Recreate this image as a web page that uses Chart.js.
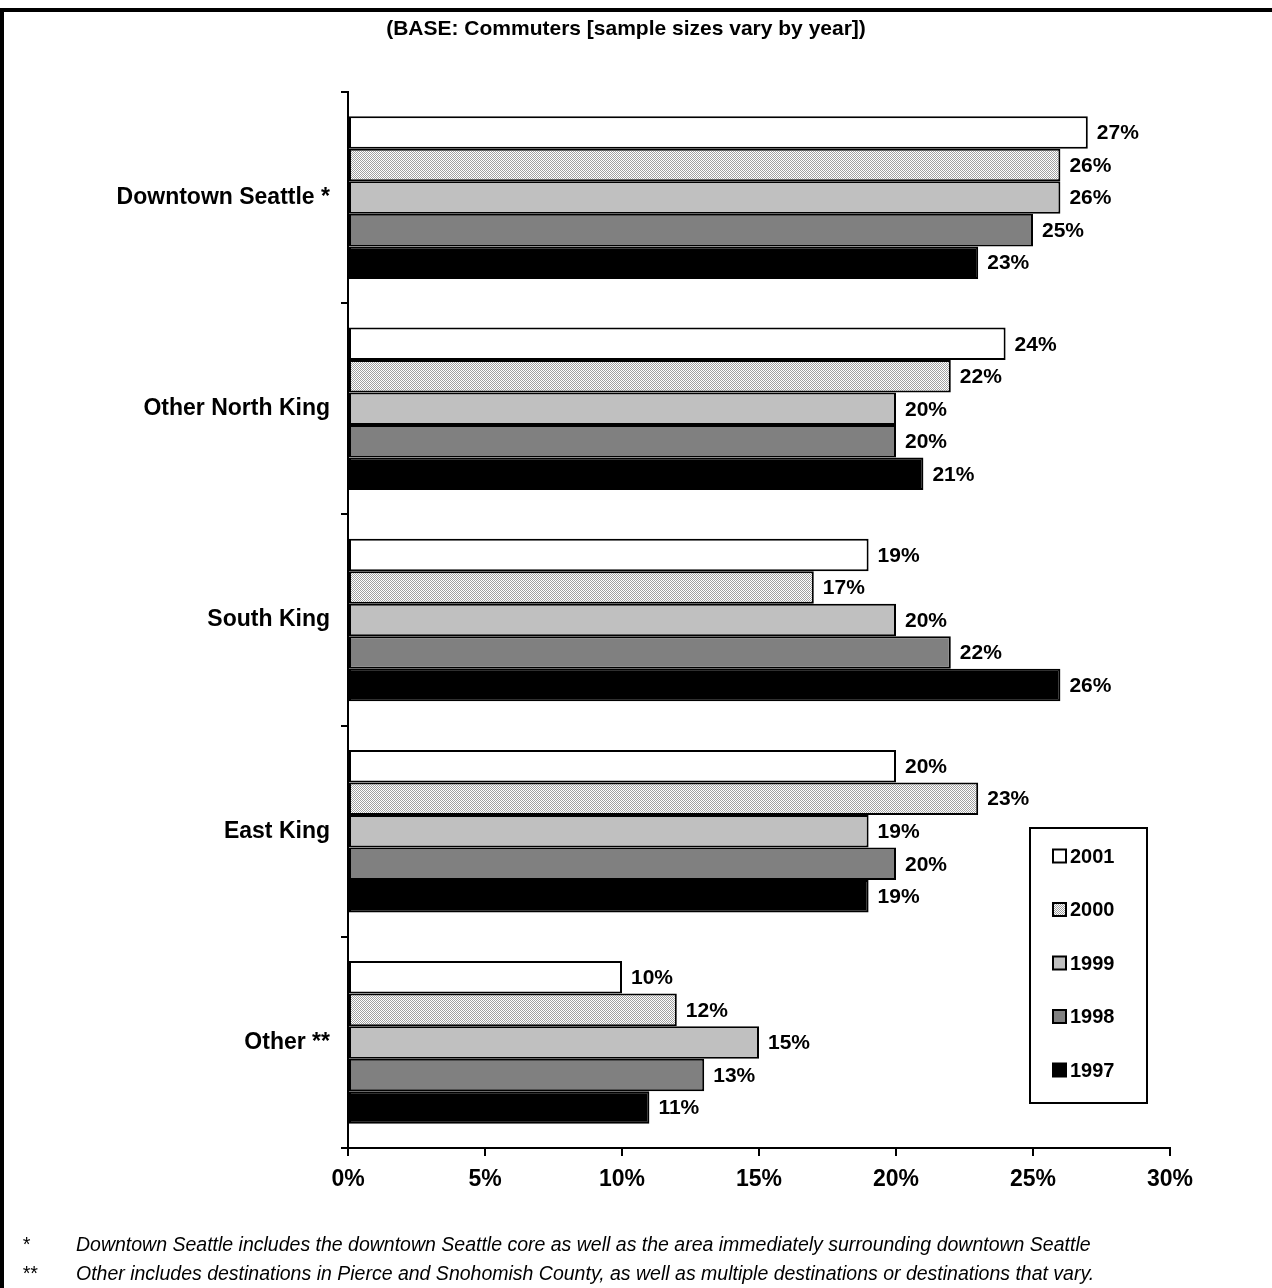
<!DOCTYPE html>
<html><head><meta charset="utf-8">
<script src="https://cdn.jsdelivr.net/npm/chart.js@4.4.1/dist/chart.umd.min.js"></script>
<style>
html,body{margin:0;padding:0;background:#fff;}
#wrap{position:relative;width:1272px;height:1288px;overflow:hidden;font-family:"Liberation Sans",Arial,sans-serif;color:#000;}
#frame{position:absolute;left:0;top:8px;width:1400px;height:1400px;border-left:4px solid #000;border-top:4px solid #000;box-sizing:border-box;}
canvas{position:absolute;left:0;top:0;}
#title{position:absolute;left:0;width:1252px;top:16px;text-align:center;font-weight:bold;font-size:21px;line-height:24px;}
.fn{position:absolute;font-style:italic;font-size:19.5px;line-height:22px;white-space:nowrap;}
</style></head>
<body><div id="wrap"><div id="frame"></div><canvas id="c" width="1272" height="1288"></canvas>
<div id="title">(BASE: Commuters [sample sizes vary by year])</div>
<div class="fn" style="left:22px;top:1233px;">*</div>
<div class="fn" style="left:76px;top:1233px;">Downtown Seattle includes the downtown Seattle core as well as the area immediately surrounding downtown Seattle</div>
<div class="fn" style="left:22px;top:1262px;">**</div>
<div class="fn" style="left:76px;top:1262px;">Other includes destinations in Pierce and Snohomish County, as well as multiple destinations or destinations that vary.</div>
</div>
<script>
const categories = ['Downtown Seattle *','Other North King','South King','East King','Other **'];
const years = ['2001','2000','1999','1998','1997'];
const v2001 = [27,24,19,20,10];
const v2000 = [26,22,17,23,12];
const v1999 = [26,20,20,19,15];
const v1998 = [25,20,22,20,13];
const v1997 = [23,21,26,19,11];
const xMin = 0, xMax = 30, xStep = 5;

const FONT = '"Liberation Sans", Arial, sans-serif';

function makePattern(){
  const p = document.createElement('canvas');
  p.width = 2; p.height = 2;
  const g = p.getContext('2d');
  g.fillStyle = '#ffffff'; g.fillRect(0,0,2,2);
  g.fillStyle = '#a0a0a0'; g.fillRect(0,0,1,1); g.fillRect(1,1,1,1);
  return document.getElementById('c').getContext('2d').createPattern(p,'repeat');
}
const pat = makePattern();
const fills = ['#ffffff', pat, '#c0c0c0', '#808080', '#000000'];
const seriesValues = [v2001, v2000, v1999, v1998, v1997];

const datasets = years.map((y,i)=>({
  label: y,
  data: seriesValues[i],
  backgroundColor: fills[i],
  borderColor: '#000',
  borderWidth: 2,
  borderSkipped: false,
  categoryPercentage: 0.77,
  barPercentage: 1.0
}));

const labelPlugin = {
  id: 'valueLabels',
  afterDatasetsDraw(chart){
    const ctx = chart.ctx;
    ctx.save();
    ctx.font = 'bold 21px ' + FONT;
    ctx.fillStyle = '#000';
    ctx.textAlign = 'left';
    ctx.textBaseline = 'middle';
    chart.data.datasets.forEach((ds, di)=>{
      const meta = chart.getDatasetMeta(di);
      meta.data.forEach((el, j)=>{
        ctx.fillText(ds.data[j] + '%', el.x + 9, el.y + 1);
      });
    });
    ctx.restore();
  }
};

const legendPlugin = {
  id: 'boxLegend',
  afterDraw(chart){
    const ctx = chart.ctx;
    const bx = 1030, by = 828, bw = 117, bh = 275;
    ctx.save();
    ctx.fillStyle = '#fff';
    ctx.fillRect(bx, by, bw, bh);
    ctx.lineWidth = 2;
    ctx.strokeStyle = '#000';
    ctx.strokeRect(bx, by, bw, bh);
    ctx.font = 'bold 20px ' + FONT;
    ctx.textBaseline = 'middle';
    ctx.textAlign = 'left';
    chart.data.datasets.forEach((ds, i)=>{
      const cy = by + 28 + i * 53.5;
      const sx = 1053, s = 13;
      ctx.fillStyle = ds.backgroundColor;
      ctx.fillRect(sx, cy - s/2, s, s);
      ctx.lineWidth = 2;
      ctx.strokeStyle = '#000';
      ctx.strokeRect(sx, cy - s/2, s, s);
      ctx.fillStyle = '#000';
      ctx.fillText(ds.label, sx + s + 4, cy + 1);
    });
    ctx.restore();
  }
};

new Chart(document.getElementById('c'), {
  type: 'bar',
  data: { labels: categories, datasets },
  options: {
    indexAxis: 'y',
    responsive: false,
    animation: false,
    devicePixelRatio: 1,
    layout: { padding: { top: 92, left: 0, right: 102, bottom: 0 } },
    plugins: { legend: { display: false }, tooltip: { enabled: false }, title: { display: false } },
    scales: {
      y: {
        type: 'category',
        offset: true,
        afterFit(s){ s.width = 348; },
        grid: { offset: true, drawOnChartArea: false, drawTicks: true, tickLength: 7, color: '#000', lineWidth: 2 },
        border: { display: true, color: '#000', width: 2 },
        ticks: { color: '#000', padding: 11, font: { family: FONT, size: 23, weight: 'bold' } }
      },
      x: {
        type: 'linear',
        min: xMin, max: xMax,
        afterFit(s){ s.height = 140; },
        grid: { drawOnChartArea: false, drawTicks: true, tickLength: 8, color: '#000', lineWidth: 2 },
        border: { display: true, color: '#000', width: 2 },
        ticks: { stepSize: xStep, color: '#000', padding: 10, font: { family: FONT, size: 23, weight: 'bold' },
                 callback: v => v + '%' }
      }
    }
  },
  plugins: [labelPlugin, legendPlugin]
});
</script>
</body></html>
